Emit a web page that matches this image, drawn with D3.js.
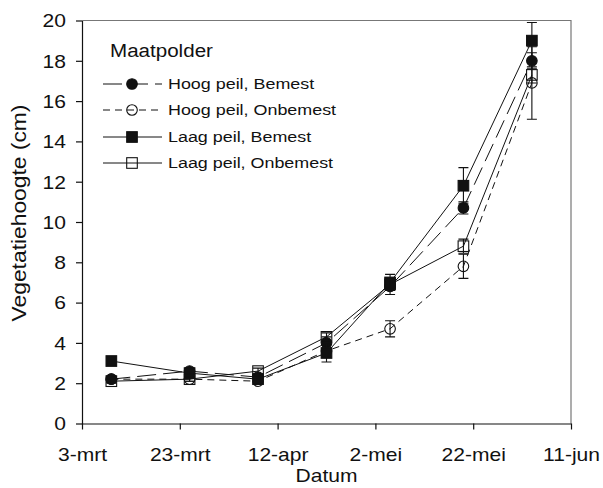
<!DOCTYPE html>
<html><head><meta charset="utf-8">
<script src="https://cdn.jsdelivr.net/npm/d3@7"></script>
<style>body{margin:0;background:#fff}svg{display:block;font-family:"Liberation Sans",Arial,sans-serif}</style>
</head><body>
<script>
// ---- data ----
const dates = ["2001-03-09","2001-03-25","2001-04-08","2001-04-22","2001-05-05","2001-05-20","2001-06-03"];
const seriesNames = ["Hoog peil, Bemest","Hoog peil, Onbemest","Laag peil, Bemest","Laag peil, Onbemest"];
const hoogBemest    = [2.2, 2.6, 2.3, 4.0, 6.8, 10.7, 18.0];
const hoogBemestErr = [0.15,0.15,0.15,0.3, 0.4, 0.3, 0.4];
const hoogOnbemest    = [2.2, 2.2, 2.1, 3.6, 4.7, 7.8, 16.9];
const hoogOnbemestErr = [0.15,0.1, 0.1, 0.3, 0.4, 0.6, 1.8];
const laagBemest    = [3.1, 2.5, 2.2, 3.5, 7.0, 11.8, 19.0];
const laagBemestErr = [0.15,0.15,0.1, 0.45,0.4, 0.9, 0.9];
const laagOnbemest    = [2.1, 2.2, 2.6, 4.3, 6.9, 8.8, 17.3];
const laagOnbemestErr = [0.1, 0.1, 0.15,0.2, 0.3, 0.35,0.4];
const xTickDates = ["2001-03-03","2001-03-23","2001-04-12","2001-05-02","2001-05-22","2001-06-11"];
const xTickLabels = ["3-mrt","23-mrt","12-apr","2-mei","22-mei","11-jun"];
const yTicks = [0,2,4,6,8,10,12,14,16,18,20];
const legendTitle = "Maatpolder";
const xTitle = "Datum";
const yTitle = "Vegetatiehoogte (cm)";

const parse = d3.timeParse("%Y-%m-%d");
const series = [
  {name:seriesNames[0], vals:hoogBemest, err:hoogBemestErr, shape:"circle", filled:true, dash:"19,7"},
  {name:seriesNames[1], vals:hoogOnbemest, err:hoogOnbemestErr, shape:"circle", filled:false, dash:"7,5"},
  {name:seriesNames[2], vals:laagBemest, err:laagBemestErr, shape:"square", filled:true, dash:null},
  {name:seriesNames[3], vals:laagOnbemest, err:laagOnbemestErr, shape:"square", filled:false, dash:null}
];

const S=1.17; // horizontal text stretch
const W=603,H=488;
const svg=d3.select("body").append("svg").attr("width",W).attr("height",H);
const x=d3.scaleTime().domain([parse(xTickDates[0]),parse(xTickDates[xTickDates.length-1])]).range([82,571]);
const y=d3.scaleLinear().domain([0,20]).range([423.5,20.5]);

function stretch(t){
  const xv=+(t.attr("x")||0);
  t.attr("x",xv/S);
  const tr=t.attr("transform")||"";
  t.attr("transform",(tr+" scale("+S+",1)").trim());
}

// frame (top/right)
svg.append("path").attr("d",`M82,${y(20)}H${x.range()[1]}V${y(0)}`).attr("fill","none").attr("stroke","#777").attr("stroke-width",1.2);

// axes
const xa=svg.append("g").attr("transform",`translate(0,${y(0)})`)
 .call(d3.axisBottom(x).tickValues(xTickDates.map(parse)).tickSize(6).tickSizeOuter(0).tickPadding(19)
   .tickFormat((d,i)=>xTickLabels[i]));
const ya=svg.append("g").attr("transform",`translate(82,0)`)
 .call(d3.axisLeft(y).tickValues(yTicks).tickSize(6).tickSizeOuter(0).tickPadding(10));
[xa,ya].forEach(a=>{a.selectAll("text").attr("font-size",18).attr("fill","#111").attr("font-family","Liberation Sans, Arial, sans-serif");
 a.selectAll("line,path").attr("stroke","#111").attr("stroke-width",1.2);});
xa.selectAll("text").attr("dy","0.71em").each(function(){stretch(d3.select(this));});
ya.selectAll("text").attr("dy","0.35em").each(function(){stretch(d3.select(this));});

stretch(svg.append("text").attr("x",(82+571)/2).attr("y",482).attr("text-anchor","middle").attr("font-size",18).attr("fill","#111").text(xTitle));
svg.append("text").attr("transform",`translate(26,213) rotate(-90) scale(${S},1)`).attr("text-anchor","middle").attr("font-size",19.5).attr("fill","#111").text(yTitle);

function marker(g,shape,filled,cx,cy){
  const r=5.3;
  const m = shape==="circle"
    ? g.append("circle").attr("cx",cx).attr("cy",cy).attr("r",r)
    : g.append("rect").attr("x",cx-r).attr("y",cy-r).attr("width",2*r).attr("height",2*r);
  m.attr("fill",filled?"#111":"none").attr("stroke","#111").attr("stroke-width",1.1);
}

const line=d3.line().x(d=>x(d.d)).y(d=>y(d.v));
series.forEach(s=>{
  const pts=s.vals.map((v,i)=>({d:parse(dates[i]),v,e:s.err[i]}));
  const g=svg.append("g");
  g.append("path").datum(pts).attr("d",line).attr("fill","none").attr("stroke","#111").attr("stroke-width",1)
    .attr("stroke-dasharray",s.dash);
  pts.forEach(p=>{
    const cx=x(p.d);
    g.append("path").attr("d",`M${cx},${y(p.v+p.e)}V${y(p.v-p.e)}M${cx-5},${y(p.v+p.e)}H${cx+5}M${cx-5},${y(p.v-p.e)}H${cx+5}`)
      .attr("stroke","#111").attr("stroke-width",1.1).attr("fill","none");
  });
  pts.forEach(p=>marker(g,s.shape,s.filled,x(p.d),y(p.v)));
});

// legend
stretch(svg.append("text").attr("x",110).attr("y",57).attr("font-size",17.6).attr("fill","#111").text(legendTitle));
const ly=[84,110,137,163];
series.forEach((s,i)=>{
  const g=svg.append("g");
  g.append("line").attr("x1",103).attr("x2",162).attr("y1",ly[i]).attr("y2",ly[i]).attr("stroke","#111").attr("stroke-width",1).attr("stroke-dasharray",s.dash);
  marker(g,s.shape,s.filled,132,ly[i]);
  stretch(g.append("text").attr("x",168).attr("y",ly[i]).attr("dy","0.35em").attr("font-size",15.3).attr("fill","#111").text(s.name));
});
</script>
</body></html>
